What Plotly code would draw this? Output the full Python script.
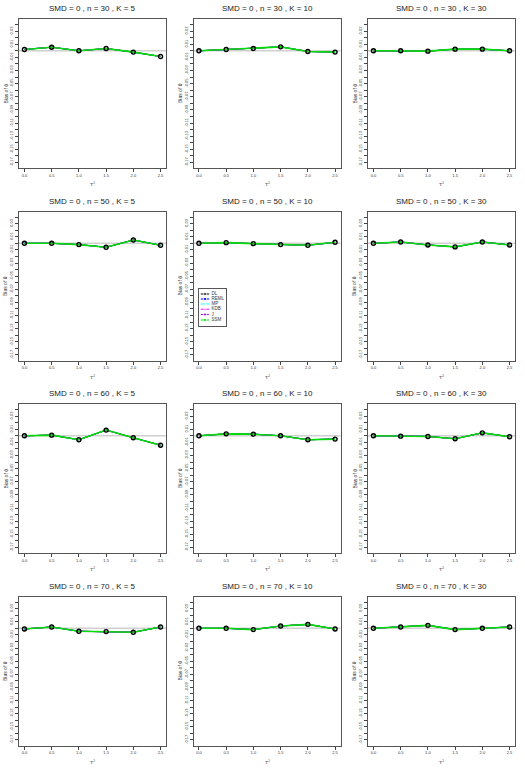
import plotly.graph_objects as go
from plotly.subplots import make_subplots

# -----------------------------
# Data
# -----------------------------
tau2 = [0.0, 0.5, 1.0, 1.5, 2.0, 2.5]
n_values = [30, 50, 60, 70]
k_values = [5, 10, 30]

methods = ["DL", "REML", "MP", "KDB", "J", "SSM"]
method_colors = ["black", "blue", "cyan", "magenta", "#a020f0", "#00e000"]
method_symbols = ["circle", "square", "triangle-up", "triangle-down", "square", "diamond"]

bias_n30_k5 = [0.002, 0.0055, 0.0, 0.0035, -0.002, -0.0087]
bias_n30_k10 = [0.0, 0.002, 0.0036, 0.006, -0.001, -0.002]
bias_n30_k30 = [0.0, 0.0, -0.0005, 0.0025, 0.0025, 0.0]
bias_n50_k5 = [0.0, 0.0, -0.002, -0.006, 0.005, -0.003]
bias_n50_k10 = [0.0, 0.001, -0.0005, -0.002, -0.003, 0.0015]
bias_n50_k30 = [0.0, 0.002, -0.0025, -0.0055, 0.002, -0.0025]
bias_n60_k5 = [0.0, 0.001, -0.006, 0.0087, -0.003, -0.0143]
bias_n60_k10 = [0.0, 0.003, 0.0025, 0.0, -0.006, -0.005]
bias_n60_k30 = [0.0, -0.0005, -0.001, -0.0045, 0.0045, -0.0015]
bias_n70_k5 = [-0.001, 0.002, -0.0045, -0.005, -0.006, 0.002]
bias_n70_k10 = [0.0, 0.0, -0.002, 0.0035, 0.006, -0.001]
bias_n70_k30 = [0.0, 0.002, 0.0045, -0.002, 0.0, 0.002]

panels = [
    [bias_n30_k5, bias_n30_k10, bias_n30_k30],
    [bias_n50_k5, bias_n50_k10, bias_n50_k30],
    [bias_n60_k5, bias_n60_k10, bias_n60_k30],
    [bias_n70_k5, bias_n70_k10, bias_n70_k30],
]

y_ticks = [round(-0.18 + 0.01 * i, 2) for i in range(23)]
y_labels = [f"{v:.2f}" if round(abs(v) * 100) % 2 == 1 else "" for v in y_ticks]
x_ticks = tau2
x_labels = [f"{v:.1f}" for v in tau2]

# -----------------------------
# Geometry (pixels)
# -----------------------------
W, H = 525, 770
col_left = [19, 193.5, 368]
row_top = [19, 211.5, 404, 596.5]
box_w, box_h = 147, 149

# legend box (px) and item layout inside it
leg_x0, leg_y0, leg_w, leg_h = 199, 289, 27, 37
leg_item_y = [32, 27, 22, 16.8, 11.5, 6]

fig = make_subplots(rows=4, cols=3)

for r in range(4):
    for c in range(3):
        vals = panels[r][c]
        for m, col in zip(methods, method_colors):
            fig.add_trace(
                go.Scatter(
                    x=tau2, y=vals, name=m, mode="lines",
                    line=dict(color=col, width=1.6 if m == "SSM" else 1),
                    showlegend=False, hoverinfo="skip",
                ),
                row=r + 1, col=c + 1,
            )
        # DL points drawn on top
        fig.add_trace(
            go.Scatter(
                x=tau2, y=vals, mode="markers", showlegend=False,
                marker=dict(color="black", size=4, symbol="circle-open",
                            line=dict(color="black", width=1.4)),
                hoverinfo="skip",
            ),
            row=r + 1, col=c + 1,
        )
        fig.add_hline(y=0, line=dict(color="#d0d0d0", width=1.5), layer="below",
                      row=r + 1, col=c + 1)

        x0 = col_left[c] / W
        x1 = (col_left[c] + box_w) / W
        y1 = 1 - row_top[r] / H
        y0 = 1 - (row_top[r] + box_h) / H
        fig.update_xaxes(
            domain=[x0, x1], range=[-0.1, 2.6],
            tickvals=x_ticks, ticktext=x_labels,
            ticks="outside", ticklen=3, tickcolor="#444",
            tickfont=dict(size=4, color="#333"),
            showline=True, linecolor="#555", mirror=True, showgrid=False, zeroline=False,
            row=r + 1, col=c + 1,
        )
        fig.update_yaxes(
            domain=[y0, y1], range=[-0.1784, 0.0484],
            tickvals=y_ticks, ticktext=y_labels, tickangle=-90,
            ticks="outside", ticklen=3, tickcolor="#444",
            tickfont=dict(size=4, color="#333"),
            showline=True, linecolor="#555", mirror=True, showgrid=False, zeroline=False,
            row=r + 1, col=c + 1,
        )

        # panel title and axis labels
        fig.add_annotation(
            text=f"SMD = 0 , n = {n_values[r]} , K = {k_values[c]}",
            x=(x0 + x1) / 2, y=1 - (row_top[r] - 10) / H, xref="paper", yref="paper",
            xanchor="center", yanchor="middle",
            showarrow=False, font=dict(size=8, color="#222"),
        )
        fig.add_annotation(
            text="τ<sup>2</sup>",
            x=(x0 + x1) / 2, y=1 - (row_top[r] + box_h + 16) / H, xref="paper", yref="paper",
            xanchor="center", yanchor="middle",
            showarrow=False, font=dict(size=5, color="#444", family="DejaVu Sans"),
        )
        fig.add_annotation(
            text="Bias of θ",
            x=(col_left[c] - 14) / W, y=(y0 + y1) / 2, xref="paper", yref="paper",
            xanchor="center", yanchor="middle",
            showarrow=False, textangle=-90, font=dict(size=5, color="#333"),
        )

# -----------------------------
# Small legend drawn on its own axis
# -----------------------------
fig.update_layout(
    xaxis13=dict(domain=[leg_x0 / W, (leg_x0 + leg_w) / W], range=[0, leg_w],
                 showticklabels=False, ticks="", showgrid=False, zeroline=False,
                 showline=True, mirror=True, linecolor="#555", anchor="y13", fixedrange=True),
    yaxis13=dict(domain=[1 - (leg_y0 + leg_h) / H, 1 - leg_y0 / H], range=[0, leg_h],
                 showticklabels=False, ticks="", showgrid=False, zeroline=False,
                 showline=True, mirror=True, linecolor="#555", anchor="x13", fixedrange=True),
)
fig.add_shape(type="rect", xref="x13 domain", yref="y13 domain", x0=0, x1=1, y0=0, y1=1,
              fillcolor="white", line=dict(width=0), layer="below")
for m, col, sym, yy in zip(methods, method_colors, method_symbols, leg_item_y):
    fig.add_trace(go.Scatter(
        x=[1.8, 6, 10.2], y=[yy] * 3, xaxis="x13", yaxis="y13",
        mode="lines+markers", line=dict(color=col, width=1),
        marker=dict(color=col, size=[0, 3, 0], symbol=sym),
        showlegend=False, hoverinfo="skip",
    ))
fig.add_trace(go.Scatter(
    x=[12.5] * len(methods), y=leg_item_y, xaxis="x13", yaxis="y13",
    mode="text", text=methods, textposition="middle right",
    textfont=dict(size=4.5, color="#333"), showlegend=False, hoverinfo="skip",
))

fig.update_layout(
    width=W, height=H,
    margin=dict(l=0, r=0, t=0, b=0),
    paper_bgcolor="white", plot_bgcolor="white",
    font=dict(family="Liberation Sans, Arial, sans-serif"),
    showlegend=False,
)

fig.write_html("out.html", post_script="document.body.style.margin='0';",
               config={"displayModeBar": False})
